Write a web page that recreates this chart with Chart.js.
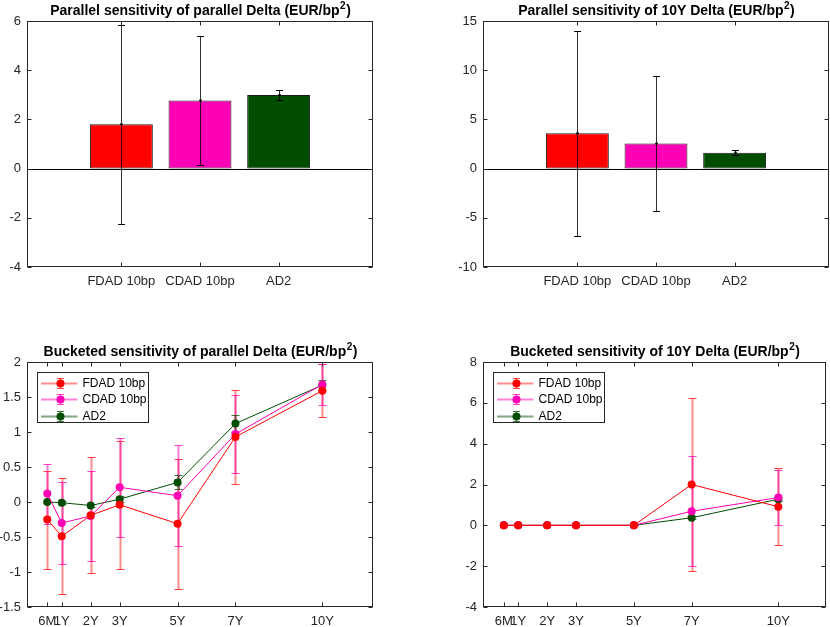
<!DOCTYPE html>
<html>
<head>
<meta charset="utf-8">
<script src="https://cdn.jsdelivr.net/npm/chart.js@4.4.0/dist/chart.umd.min.js"></script>
<style>
  body { margin: 0; background: #fff; }
  #page { position: relative; width: 830px; height: 627px; background: #fff; overflow: hidden; }
  canvas { position: absolute; }
</style>
</head>
<body>
<div id="page">
  <canvas id="parDelta" width="415" height="310" style="left:0;top:0"></canvas>
  <canvas id="tenDelta" width="415" height="310" style="left:415px;top:0"></canvas>
  <canvas id="bucketPar" width="415" height="317" style="left:0;top:310px"></canvas>
  <canvas id="bucketTen" width="415" height="317" style="left:415px;top:310px"></canvas>
</div>
<script>
let methods = ["FDAD 10bp", "CDAD 10bp", "AD2"];
let methodColors = ["#ff0000", "#ff00b4", "#004d00"];
let stemColors = ["rgba(255,0,0,0.45)", "rgba(255,0,180,0.5)", "rgba(0,77,0,0.5)"];
let capColors = ["rgba(255,0,0,0.75)", "rgba(255,0,180,0.75)", "rgba(0,77,0,0.75)"];

// parallel sensitivities (bar + error)
let parDeltaValues = [1.8, 2.77, 2.99];
let parDeltaErrors = [4.05, 2.62, 0.19];
let tenDeltaValues = [3.6, 2.55, 1.62];
let tenDeltaErrors = [10.4, 6.87, 0.22];

let tenors = [0.5, 1, 2, 3, 5, 7, 10];
let tenorLabels = ["6M", "1Y", "2Y", "3Y", "5Y", "7Y", "10Y"];

// bucketed sensitivity of parallel delta
let bucketParFdad = [-0.25, -0.49, -0.19, -0.04, -0.31, 0.93, 1.59];
let bucketParFdadErr = [0.7, 0.83, 0.83, 0.91, 0.93, 0.67, 0.38];
let bucketParCdad = [0.12, -0.3, -0.2, 0.21, 0.09, 0.97, 1.68];
let bucketParCdadErr = [0.43, 0.59, 0.64, 0.71, 0.72, 0.56, 0.29];
let bucketParAd2 = [0.0, -0.01, -0.05, 0.04, 0.28, 1.12, 1.67];
let bucketParAd2Err = [0.02, 0.02, 0.02, 0.04, 0.1, 0.12, 0.07];

// bucketed sensitivity of 10Y delta
let bucketTenFdad = [0, 0, 0, 0, 0, 2.0, 0.91];
let bucketTenFdadErr = [0, 0, 0, 0, 0, 4.23, 1.88];
let bucketTenCdad = [0, 0, 0, 0, 0, 0.69, 1.36];
let bucketTenCdadErr = [0, 0, 0, 0, 0, 2.7, 1.34];
let bucketTenAd2 = [0, 0, 0, 0, 0, 0.37, 1.28];
let bucketTenAd2Err = [0, 0, 0, 0, 0, 0.08, 0.1];

Chart.defaults.font.family = "'Liberation Sans', Arial, sans-serif";
Chart.defaults.font.size = 13;
Chart.defaults.color = "#262626";

let axisColor = "#262626";
let fontFamily = "'Liberation Sans', Arial, sans-serif";

let makeScales = (o) => ({
  x: {
    type: "linear",
    min: o.xmin,
    max: o.xmax,
    offset: false,
    grid: { display: false, drawTicks: false, offset: false },
    border: { display: false },
    afterBuildTicks: (s) => {
      s.ticks = o.xTicks.map((v) => ({ value: v }));
    },
    afterFit: (s) => {
      s.height = o.xHeight;
    },
    ticks: {
      autoSkip: false,
      maxRotation: 0,
      minRotation: 0,
      padding: 7,
      color: axisColor,
      callback: (v) => o.xLabels[o.xTicks.indexOf(v)],
    },
  },
  y: {
    type: "linear",
    min: o.ymin,
    max: o.ymax,
    grid: { display: false, drawTicks: false },
    border: { display: false },
    afterFit: (s) => {
      s.width = o.yWidth;
    },
    ticks: { stepSize: o.ystep, padding: 6, color: axisColor, callback: (v) => String(v) },
  },
});

let drawErrors = (chart, cfg) => {
  const ctx = chart.ctx;
  const y = chart.scales.y;
  chart.data.datasets.forEach((ds, i) => {
    const meta = chart.getDatasetMeta(i);
    const errs = cfg.errors[i];
    ctx.save();
    meta.data.forEach((el, j) => {
      const v = ds.data[j].y;
      const e = errs[j];
      const px = Math.round(el.x) + 0.5;
      const top = Math.round(y.getPixelForValue(v + e)) + 0.5;
      const bot = Math.round(y.getPixelForValue(v - e)) + 0.5;
      ctx.strokeStyle = cfg.stemColors[i];
      ctx.lineWidth = cfg.stemWidth;
      ctx.beginPath();
      ctx.moveTo(px, top);
      ctx.lineTo(px, bot);
      ctx.stroke();
      ctx.strokeStyle = cfg.capColors[i];
      ctx.lineWidth = 1;
      ctx.beginPath();
      ctx.moveTo(px - cfg.cap, top);
      ctx.lineTo(px + cfg.cap, top);
      ctx.moveTo(px - cfg.cap, bot);
      ctx.lineTo(px + cfg.cap, bot);
      ctx.stroke();
      if (cfg.dots) {
        ctx.fillStyle = "#000";
        ctx.beginPath();
        ctx.arc(px, y.getPixelForValue(v), 1.3, 0, Math.PI * 2);
        ctx.fill();
      }
    });
    ctx.restore();
  });
};

let drawLegend = (chart) => {
  const ctx = chart.ctx;
  const ca = chart.chartArea;
  const x0 = Math.round(ca.left) + 10.5;
  const y0 = Math.round(ca.top) + 10.5;
  ctx.save();
  ctx.fillStyle = "#fff";
  ctx.fillRect(x0, y0, 111, 50);
  ctx.strokeStyle = axisColor;
  ctx.lineWidth = 1;
  ctx.strokeRect(x0, y0, 111, 50);
  methods.forEach((name, i) => {
    const cy = Math.round(y0 + 10 + i * 16.5) + 0.5;
    const mx = x0 + 23;
    ctx.strokeStyle = stemColors[i];
    ctx.lineWidth = 2;
    ctx.beginPath();
    ctx.moveTo(x0 + 3.5, cy);
    ctx.lineTo(x0 + 40, cy);
    ctx.stroke();
    ctx.strokeStyle = capColors[i];
    ctx.lineWidth = 1;
    ctx.beginPath();
    ctx.moveTo(mx, cy - 5);
    ctx.lineTo(mx, cy + 5);
    ctx.moveTo(mx - 3.5, cy - 5);
    ctx.lineTo(mx + 3.5, cy - 5);
    ctx.moveTo(mx - 3.5, cy + 5);
    ctx.lineTo(mx + 3.5, cy + 5);
    ctx.stroke();
    ctx.fillStyle = methodColors[i];
    ctx.beginPath();
    ctx.arc(mx, cy, 4, 0, Math.PI * 2);
    ctx.fill();
    ctx.fillStyle = "#000";
    ctx.font = "12px " + fontFamily;
    ctx.textAlign = "left";
    ctx.textBaseline = "middle";
    ctx.fillText(name, x0 + 45, cy + 0.5);
  });
  ctx.restore();
};

// title with a raised "2" for bp squared
let drawTitle = (ctx, text, cx, base) => {
  const parts = text.split("²");
  const mainFont = "bold 14px " + fontFamily;
  const supFont = "bold 10px " + fontFamily;
  ctx.font = mainFont;
  const w0 = ctx.measureText(parts[0]).width;
  const w2 = parts[1] ? ctx.measureText(parts[1]).width : 0;
  ctx.font = supFont;
  const w1 = parts.length > 1 ? ctx.measureText("2").width : 0;
  let x = cx - (w0 + w1 + w2) / 2;
  ctx.textAlign = "left";
  ctx.textBaseline = "alphabetic";
  ctx.fillStyle = "#000";
  ctx.font = mainFont;
  ctx.fillText(parts[0], x, base);
  if (parts.length > 1) {
    ctx.font = supFont;
    ctx.fillText("2", x + w0 + 0.5, base - 6);
    ctx.font = mainFont;
    ctx.fillText(parts[1], x + w0 + w1 + 1, base);
  }
};

// matlab style box, inward ticks, title, error bars
let matlabAxes = (cfg) => ({
  id: "matlabAxes",
  beforeDatasetsDraw(chart) {
    const ctx = chart.ctx;
    const ca = chart.chartArea;
    if (cfg.baseline) {
      const y0 = Math.round(chart.scales.y.getPixelForValue(0)) + 0.5;
      ctx.save();
      ctx.strokeStyle = "#000";
      ctx.lineWidth = 1;
      ctx.beginPath();
      ctx.moveTo(ca.left, y0);
      ctx.lineTo(ca.right, y0);
      ctx.stroke();
      ctx.restore();
    }
    if (!cfg.errorsOnTop) drawErrors(chart, cfg);
  },
  afterDatasetsDraw(chart) {
    if (cfg.errorsOnTop) drawErrors(chart, cfg);
  },
  afterDraw(chart) {
    const ctx = chart.ctx;
    const ca = chart.chartArea;
    const l = Math.round(ca.left) + 0.5;
    const r = Math.round(ca.right) - 0.5;
    const t = Math.round(ca.top) + 0.5;
    const b = Math.round(ca.bottom) - 0.5;
    ctx.save();
    ctx.strokeStyle = axisColor;
    ctx.lineWidth = 1;
    ctx.beginPath();
    chart.scales.y.ticks.forEach((tk) => {
      const py = Math.round(chart.scales.y.getPixelForValue(tk.value)) + 0.5;
      ctx.moveTo(l, py);
      ctx.lineTo(l + 4, py);
      ctx.moveTo(r, py);
      ctx.lineTo(r - 4, py);
    });
    chart.scales.x.ticks.forEach((tk) => {
      const px = Math.round(chart.scales.x.getPixelForValue(tk.value)) + 0.5;
      ctx.moveTo(px, b);
      ctx.lineTo(px, b - 4);
      ctx.moveTo(px, t);
      ctx.lineTo(px, t + 4);
    });
    ctx.stroke();
    ctx.strokeRect(l, t, r - l, b - t);
    drawTitle(ctx, cfg.title, (ca.left + ca.right) / 2, ca.top - 6);
    ctx.restore();
    if (cfg.legend) drawLegend(chart);
  },
});

let barChart = (id, values, errors, o) =>
  new Chart(document.getElementById(id), {
    type: "bar",
    data: {
      datasets: [
        {
          data: values.map((v, i) => ({ x: i + 1, y: v })),
          backgroundColor: methodColors,
          borderColor: "#1a1a1a",
          borderWidth: 1,
          borderSkipped: false,
          categoryPercentage: 1,
          barPercentage: 0.8,
        },
      ],
    },
    options: {
      responsive: false,
      animation: false,
      layout: { padding: o.padding },
      scales: makeScales({
        xmin: -0.2,
        xmax: 4.2,
        xTicks: [1, 2, 3],
        xLabels: methods,
        xHeight: o.xHeight,
        ymin: o.ymin,
        ymax: o.ymax,
        ystep: o.ystep,
        yWidth: o.yWidth,
      }),
      plugins: { legend: { display: false }, tooltip: { enabled: false } },
    },
    plugins: [
      matlabAxes({
        title: o.title,
        baseline: true,
        errors: [errors],
        stemColors: ["rgba(0,0,0,0.8)"],
        capColors: ["#000"],
        stemWidth: 1,
        cap: 3.5,
        dots: true,
        errorsOnTop: true,
      }),
    ],
  });

let lineChart = (id, series, errors, o) =>
  new Chart(document.getElementById(id), {
    type: "line",
    data: {
      datasets: series.map((s, i) => ({
        label: methods[i],
        data: s.map((v, j) => ({ x: tenors[j], y: v })),
        borderColor: methodColors[i],
        backgroundColor: methodColors[i],
        borderWidth: 1,
        tension: 0,
        pointRadius: 4,
        pointBorderWidth: 0,
        pointBackgroundColor: methodColors[i],
      })),
    },
    options: {
      responsive: false,
      animation: false,
      layout: { padding: o.padding },
      scales: makeScales({
        xmin: o.xmin,
        xmax: o.xmax,
        xTicks: tenors,
        xLabels: tenorLabels,
        xHeight: o.xHeight,
        ymin: o.ymin,
        ymax: o.ymax,
        ystep: o.ystep,
        yWidth: o.yWidth,
      }),
      plugins: { legend: { display: false }, tooltip: { enabled: false } },
    },
    plugins: [
      matlabAxes({
        title: o.title,
        errors: errors,
        stemColors: stemColors,
        capColors: capColors,
        stemWidth: 2,
        cap: 4,
        legend: true,
      }),
    ],
  });

barChart("parDelta", parDeltaValues, parDeltaErrors, {
  title: "Parallel sensitivity of parallel Delta (EUR/bp²)",
  padding: { left: 0, right: 42, top: 21, bottom: 0 },
  xHeight: 43,
  yWidth: 27,
  ymin: -4,
  ymax: 6,
  ystep: 2,
});

barChart("tenDelta", tenDeltaValues, tenDeltaErrors, {
  title: "Parallel sensitivity of 10Y Delta (EUR/bp²)",
  padding: { left: 0, right: 1, top: 21, bottom: 0 },
  xHeight: 43,
  yWidth: 68,
  ymin: -10,
  ymax: 15,
  ystep: 5,
});

lineChart(
  "bucketPar",
  [bucketParFdad, bucketParCdad, bucketParAd2],
  [bucketParFdadErr, bucketParCdadErr, bucketParAd2Err],
  {
    title: "Bucketed sensitivity of parallel Delta (EUR/bp²)",
    padding: { left: 0, right: 42, top: 52, bottom: 0 },
    xHeight: 20,
    yWidth: 27,
    xmin: -0.2,
    xmax: 11.75,
    ymin: -1.5,
    ymax: 2,
    ystep: 0.5,
  }
);

lineChart(
  "bucketTen",
  [bucketTenFdad, bucketTenCdad, bucketTenAd2],
  [bucketTenFdadErr, bucketTenCdadErr, bucketTenAd2Err],
  {
    title: "Bucketed sensitivity of 10Y Delta (EUR/bp²)",
    padding: { left: 0, right: 4, top: 52, bottom: 0 },
    xHeight: 20,
    yWidth: 68,
    xmin: -0.22,
    xmax: 11.65,
    ymin: -4,
    ymax: 8,
    ystep: 2,
  }
);
</script>
</body>
</html>
